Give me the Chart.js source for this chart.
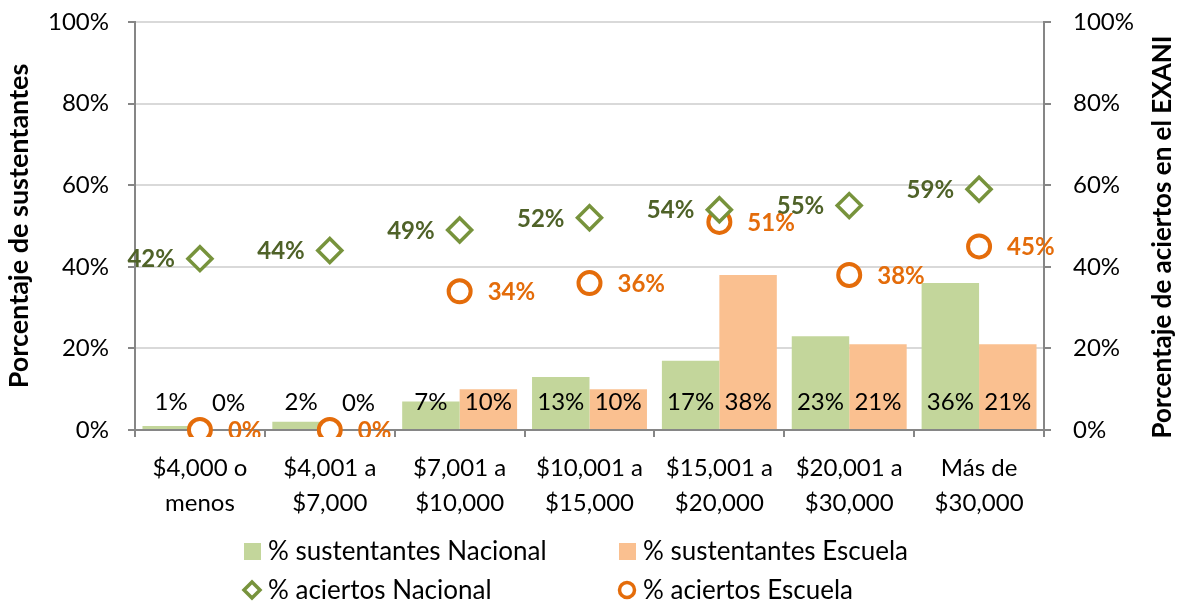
<!DOCTYPE html>
<html>
<head>
<meta charset="utf-8">
<script src="https://cdn.jsdelivr.net/npm/chart.js@4"></script>
<style>
  html, body { margin: 0; padding: 0; background: #fff; }
  #wrap { width: 1193px; height: 604px; position: relative; }
</style>
</head>
<body>
<div id="wrap"><canvas id="chart"></canvas></div>
<script>
// datos
const categories = [
  ['$4,000 o', 'menos'],
  ['$4,001 a', '$7,000'],
  ['$7,001 a', '$10,000'],
  ['$10,001 a', '$15,000'],
  ['$15,001 a', '$20,000'],
  ['$20,001 a', '$30,000'],
  ['Más de', '$30,000']
];
const sustentantesNacional = [1, 2, 7, 13, 17, 23, 36];
const sustentantesEscuela = [0, 0, 10, 10, 38, 21, 21];
const aciertosNacional = [42, 44, 49, 52, 54, 55, 59];
const aciertosEscuela = [0, 0, 34, 36, 51, 38, 45];
const yTicks = [0, 20, 40, 60, 80, 100];

const FONT = 'Lato';
const GREEN_BAR = '#C3D69B';
const ORANGE_BAR = '#FAC090';
const GREEN_MARK = '#77933C';
const GREEN_TEXT = '#4F6228';
const ORANGE = '#E46C0A';
const AXIS = '#868686';
const GRID = '#D9D9D9';

// etiquetas de valores sobre barras y marcadores
const valueLabels = {
  id: 'valueLabels',
  afterDatasetsDraw(chart) {
    const ctx = chart.ctx;
    const area = chart.chartArea;
    ctx.save();
    ctx.beginPath();
    ctx.rect(0, 0, chart.width, area.bottom + 7);
    ctx.clip();
    ctx.textBaseline = 'middle';
    chart.data.datasets.forEach((ds, i) => {
      const meta = chart.getDatasetMeta(i);
      meta.data.forEach((el, j) => {
        const text = ds.data[j] + '%';
        if (ds.type === 'line') {
          ctx.font = 'bold 24px ' + FONT;
          if (ds.labelSide === 'left') {
            ctx.fillStyle = GREEN_TEXT;
            ctx.textAlign = 'right';
            ctx.fillText(text, el.x - 25, el.y + 1);
          } else {
            ctx.fillStyle = ORANGE;
            ctx.textAlign = 'left';
            ctx.fillText(text, el.x + 28, el.y + 1);
          }
        } else {
          ctx.font = '24px ' + FONT;
          ctx.fillStyle = '#000';
          ctx.textAlign = 'center';
          ctx.fillText(text, el.x, el.base - 27);
        }
      });
    });
    ctx.restore();
  }
};

// titulo del eje derecho y leyenda en 2x2
const extras = {
  id: 'extras',
  afterDraw(chart) {
    const ctx = chart.ctx;
    ctx.save();
    ctx.translate(1163, 237);
    ctx.rotate(-Math.PI / 2);
    ctx.font = 'bold 26px ' + FONT;
    ctx.fillStyle = '#000';
    ctx.textAlign = 'center';
    ctx.textBaseline = 'middle';
    ctx.fillText('Porcentaje de aciertos en el EXANI', 0, 0);
    ctx.restore();

    const slots = [[252, 551], [627, 551], [252, 590], [627, 590]];
    ctx.save();
    ctx.textBaseline = 'middle';
    ctx.textAlign = 'left';
    ctx.font = '26px ' + FONT;
    chart.data.datasets.forEach(ds => {
      const [x, y] = slots[ds.legendSlot];
      if (ds.type === 'line') {
        ctx.fillStyle = '#fff';
        ctx.strokeStyle = ds.pointBorderColor;
        ctx.lineWidth = 3.5;
        ctx.beginPath();
        if (ds.pointStyle === 'rectRot') {
          const r = 8;
          ctx.moveTo(x, y - r);
          ctx.lineTo(x + r, y);
          ctx.lineTo(x, y + r);
          ctx.lineTo(x - r, y);
          ctx.closePath();
        } else {
          ctx.arc(x, y, 7.5, 0, Math.PI * 2);
        }
        ctx.fill();
        ctx.stroke();
      } else {
        ctx.fillStyle = ds.backgroundColor;
        ctx.fillRect(x - 8, y - 8, 17, 17);
      }
      ctx.fillStyle = '#000';
      ctx.fillText(ds.label, x + 16, y + 1);
    });
    ctx.restore();
  }
};

const yAxisCommon = {
  min: 0,
  max: 100,
  afterBuildTicks: scale => { scale.ticks = yTicks.map(v => ({ value: v })); },
  ticks: {
    callback: v => v + '%',
    color: '#000',
    font: { family: FONT, size: 24 }
  }
};

// ancho fijo del eje y sin relleno extra arriba/abajo
function fixWidth(w) {
  return scale => {
    scale.width = w;
    scale.paddingTop = 0;
    scale.paddingBottom = 0;
  };
}

new Chart(document.getElementById('chart'), {
  type: 'bar',
  data: {
    labels: categories,
    datasets: [
      {
        type: 'line',
        label: '% aciertos Nacional',
        data: aciertosNacional,
        yAxisID: 'y2',
        showLine: false,
        pointStyle: 'rectRot',
        pointRadius: 12,
        pointHoverRadius: 12,
        pointBorderWidth: 3.5,
        pointBackgroundColor: '#fff',
        pointBorderColor: GREEN_MARK,
        labelSide: 'left',
        legendSlot: 2,
        clip: { left: false, top: false, right: false, bottom: 7 },
        order: 0
      },
      {
        type: 'line',
        label: '% aciertos Escuela',
        data: aciertosEscuela,
        yAxisID: 'y2',
        showLine: false,
        pointStyle: 'circle',
        pointRadius: 11,
        pointHoverRadius: 11,
        pointBorderWidth: 4,
        pointBackgroundColor: '#fff',
        pointBorderColor: ORANGE,
        labelSide: 'right',
        legendSlot: 3,
        clip: { left: false, top: false, right: false, bottom: 7 },
        order: 0
      },
      {
        label: '% sustentantes Nacional',
        data: sustentantesNacional,
        backgroundColor: GREEN_BAR,
        borderWidth: 0,
        categoryPercentage: 0.885,
        barPercentage: 1,
        legendSlot: 0,
        order: 1
      },
      {
        label: '% sustentantes Escuela',
        data: sustentantesEscuela,
        backgroundColor: ORANGE_BAR,
        borderWidth: 0,
        categoryPercentage: 0.885,
        barPercentage: 1,
        legendSlot: 1,
        order: 1
      }
    ]
  },
  options: {
    responsive: true,
    maintainAspectRatio: false,
    animation: false,
    events: [],
    layout: { padding: { top: 22, left: 0, right: 0, bottom: 0 } },
    plugins: {
      legend: { display: false },
      tooltip: { enabled: false }
    },
    scales: {
      x: {
        afterFit: scale => { scale.height = 174; },
        grid: {
          offset: true,
          drawOnChartArea: false,
          color: AXIS,
          tickLength: 7,
          lineWidth: 2
        },
        border: { color: AXIS, width: 2 },
        ticks: {
          color: '#000',
          padding: 14,
          maxRotation: 0,
          font: { family: FONT, size: 24, lineHeight: 1.45 }
        }
      },
      y: Object.assign({}, yAxisCommon, {
        position: 'left',
        afterFit: fixWidth(135),
        grid: { color: GRID, lineWidth: 2, tickColor: AXIS, tickLength: 7 },
        border: { color: AXIS, width: 2 },
        ticks: Object.assign({}, yAxisCommon.ticks, { padding: 19 }),
        title: {
          display: true,
          text: 'Porcentaje de sustentantes',
          color: '#000',
          font: { family: FONT, size: 27, weight: 'bold' },
          padding: { top: 3, bottom: 0 }
        }
      }),
      y2: Object.assign({}, yAxisCommon, {
        position: 'right',
        afterFit: fixWidth(149),
        grid: { drawOnChartArea: false, color: AXIS, tickLength: 7, lineWidth: 2 },
        border: { color: AXIS, width: 2 },
        ticks: Object.assign({}, yAxisCommon.ticks, { padding: 22 })
      })
    }
  },
  plugins: [valueLabels, extras]
});
</script>
</body>
</html>
